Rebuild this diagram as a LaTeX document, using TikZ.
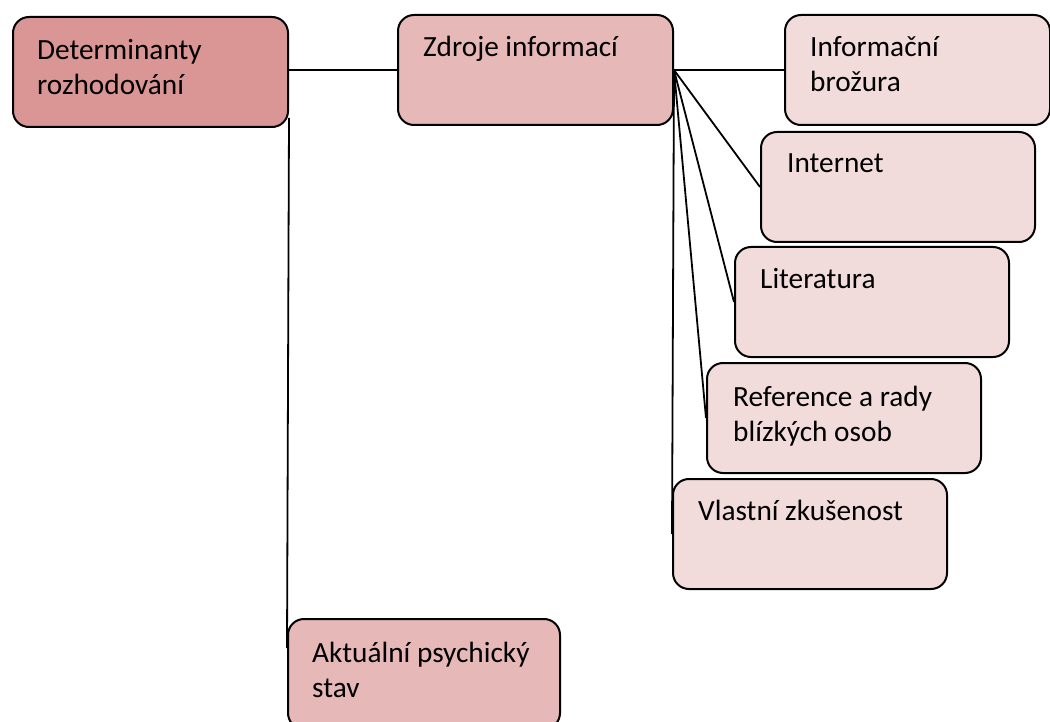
\documentclass[tikz,border=0pt]{standalone}
\usepackage{fontspec}
\setmainfont{Carlito}
\usetikzlibrary{backgrounds}
\definecolor{rootfill}{HTML}{D99694}
\definecolor{midfill}{HTML}{E6B9B8}
\definecolor{leaffill}{HTML}{F2DCDB}
\tikzset{
  card/.style={draw=black, line width=2pt, rounded corners=16pt,
    anchor=north west, inner sep=0pt, minimum width=275pt, minimum height=110pt},
  rootcard/.style={card, fill=rootfill},
  midcard/.style={card, fill=midfill},
  leafcard/.style={card, fill=leaffill},
  % multi-line captions take their base from the last line
  cardtext/.style={anchor=base west, inner sep=0pt, align=left,
    font=\fontsize{29.3}{35}\selectfont},
  link/.style={draw=black, line width=1.8pt},
}
\begin{document}
\begin{tikzpicture}[x=1pt, y=-1pt]
\useasboundingbox (0,0) rectangle (1050,722);

% cards, placed by their top-left corners
\node[rootcard] (det) at (12,16) {};
\node[midcard]  (zdr) at (397,14) {};
\node[leafcard, minimum width=265pt] (inf) at (784,14) {};
\node[leafcard, minimum width=274pt] (int) at (760,131) {};
\node[leafcard, minimum width=274pt] (lit) at (734,246) {};
\node[leafcard, minimum width=274pt] (ref) at (706,362) {};
\node[leafcard, minimum width=274pt] (vla) at (672,478) {};
\node[midcard,  minimum width=272pt] (akt) at (287,618) {};

% card captions, set from the top-left corner of each card
\node[cardtext] (detT) at ([xshift=25pt,yshift=-79pt]det.north west) {Determinanty\\rozhodování};
\node[cardtext] (zdrT) at ([xshift=26pt,yshift=-43pt]zdr.north west) {Zdroje informací};
\node[cardtext] (infT) at ([xshift=26pt,yshift=-78pt]inf.north west) {Informační\\brožura};
\node[cardtext] (intT) at ([xshift=27pt,yshift=-42pt]int.north west) {Internet};
\node[cardtext] (litT) at ([xshift=26pt,yshift=-43pt]lit.north west) {Literatura};
\node[cardtext] (refT) at ([xshift=27pt,yshift=-79pt]ref.north west) {Reference a rady\\blízkých osob};
\node[cardtext] (vlaT) at ([xshift=26pt,yshift=-42pt]vla.north west) {Vlastní zkušenost};
\node[cardtext] (aktT) at ([xshift=25pt,yshift=-79pt]akt.north west) {Aktuální psychický\\stav};

% links between cards, drawn underneath them
\coordinate (aktEdge) at ([yshift=-30pt]akt.north west);
\begin{pgfonlayer}{background}
  \draw[link] (zdr.west -| det.east) -- (zdr.west);
  \draw[link] ([yshift=10pt]det.south east) -- (aktEdge);
  \draw[link] (zdr.east) -- (inf.west);
  \draw[link] (zdr.east) -- (int.west);
  \draw[link] (zdr.east) -- (lit.west);
  \draw[link] (zdr.east) -- (ref.west);
  \draw[link] (zdr.east) -- (vla.west);
\end{pgfonlayer}
\end{tikzpicture}
\end{document}
